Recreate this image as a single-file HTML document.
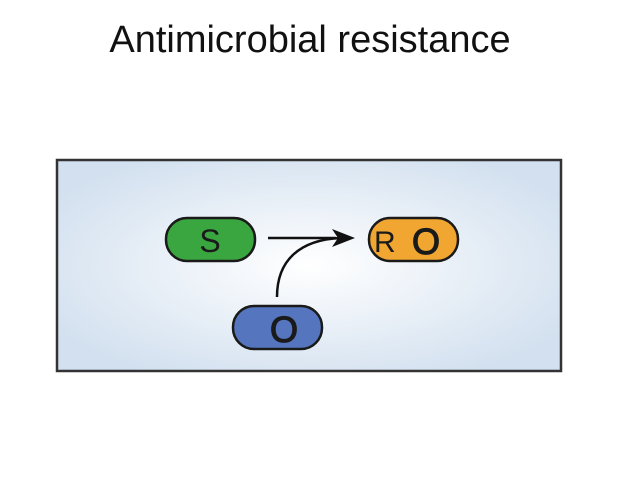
<!DOCTYPE html>
<html><head><style>
body{margin:0;width:620px;height:481px;background:#fff;overflow:hidden;font-family:"Liberation Sans",sans-serif;}
.t{position:absolute;left:0;width:620px;top:19px;text-align:center;font-size:38px;color:#111;}
</style></head><body>
<div class="t">Antimicrobial resistance</div>
<svg width="620" height="481" style="position:absolute;left:0;top:0">
<defs><radialGradient id="g" cx="0.5" cy="0.5" r="0.6"><stop offset="0" stop-color="#ffffff"/><stop offset="1" stop-color="#d2e0ef"/></radialGradient></defs>
<rect x="57" y="160" width="504" height="211" fill="url(#g)" stroke="#333" stroke-width="2.5"/>
<rect x="166" y="218" width="89" height="43" rx="21" fill="#3aa640" stroke="#1a1a1a" stroke-width="2.5"/>
<text x="210" y="252" font-size="32" text-anchor="middle" fill="#1a1a1a">S</text>
<rect x="369" y="218" width="89" height="43" rx="21" fill="#f0a630" stroke="#1a1a1a" stroke-width="2.5"/>
<text x="374" y="252" font-size="30" fill="#1a1a1a">R</text>
<text x="426" y="254" font-size="36" text-anchor="middle" fill="#1a1a1a" stroke="#1a1a1a" stroke-width="1.2">O</text>
<rect x="233" y="306" width="89" height="43" rx="21" fill="#5576bf" stroke="#1a1a1a" stroke-width="2.5"/>
<text x="284" y="342" font-size="36" text-anchor="middle" fill="#1a1a1a" stroke="#1a1a1a" stroke-width="1.2">O</text>
<line x1="268" y1="238" x2="336" y2="238" stroke="#111" stroke-width="2.5"/>
<path d="M277 297 C277 260 300 240 340 238" fill="none" stroke="#111" stroke-width="2.5"/>
<polygon points="355,238 332,229 338,238 332,247" fill="#111"/>
</svg>
</body></html>
